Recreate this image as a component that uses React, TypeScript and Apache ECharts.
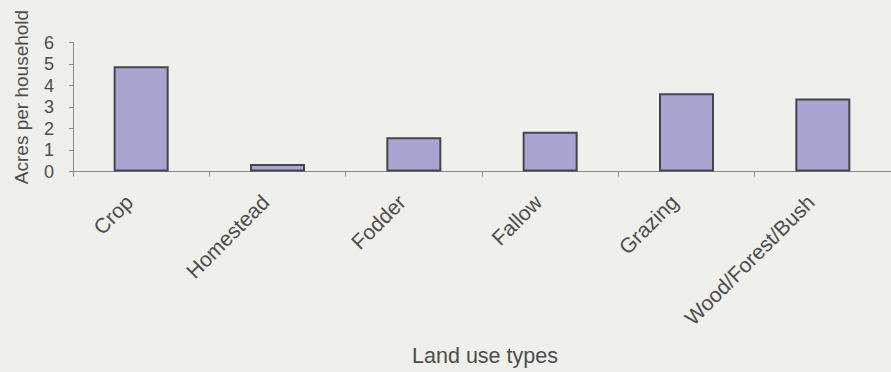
import React, { useEffect, useRef } from "react";
import * as echarts from "echarts";

// Land use per household
const categories = ["Crop", "Homestead", "Fodder", "Fallow", "Grazing", "Wood/Forest/Bush"];
const acresPerHousehold = [4.9, 0.35, 1.6, 1.85, 3.65, 3.4];
const yTicks = { min: 0, max: 6, interval: 1 };

const yTitle = "Acres per household";
const xTitle = "Land use types";

const FONT = "'Liberation Sans', Arial, sans-serif";
const TEXT = "#4d4d4d";
const AXIS = "#8a8a8a";
const BG = "#efefeb";

export default function App() {
  const ref = useRef<HTMLDivElement>(null);

  useEffect(() => {
    if (!ref.current) return;
    const chart = echarts.init(ref.current, null, { renderer: "svg" });
    chart.setOption({
      animation: false,
      backgroundColor: BG,
      grid: { left: 73, top: 42.7, width: 822, height: 128.8, containLabel: false },
      xAxis: {
        type: "category",
        data: categories,
        axisLine: { show: true, lineStyle: { color: AXIS, width: 1 } },
        axisTick: { show: true, length: 5, lineStyle: { color: AXIS } },
        axisLabel: {
          rotate: 45,
          margin: 15,
          padding: [0, 17, 0, 0],
          interval: 0,
          fontFamily: FONT,
          fontSize: 21,
          color: TEXT,
        },
      },
      yAxis: {
        type: "value",
        min: yTicks.min,
        max: yTicks.max,
        interval: yTicks.interval,
        axisLine: { show: true, lineStyle: { color: AXIS, width: 1 } },
        axisTick: { show: true, length: 4, lineStyle: { color: AXIS } },
        splitLine: { show: false },
        axisLabel: { margin: 19, fontFamily: FONT, fontSize: 18, color: TEXT },
      },
      series: [
        {
          type: "bar",
          data: acresPerHousehold,
          barWidth: 55,
          itemStyle: { color: "#a8a5d1", borderColor: "#45454f", borderWidth: 2 },
        },
      ],
      graphic: [
        {
          type: "text",
          x: 21,
          y: 97,
          rotation: Math.PI / 2,
          style: {
            text: yTitle,
            fontFamily: FONT,
            fontSize: 19,
            fill: TEXT,
            align: "center",
            verticalAlign: "middle",
          },
        },
        {
          type: "text",
          x: 485,
          y: 356,
          style: {
            text: xTitle,
            fontFamily: FONT,
            fontSize: 21.5,
            fill: TEXT,
            align: "center",
            verticalAlign: "middle",
          },
        },
      ],
    });
    return () => chart.dispose();
  }, []);

  return (
    <div
      ref={ref}
      style={{ position: "fixed", left: 0, top: 0, width: 891, height: 372, background: BG }}
    />
  );
}
